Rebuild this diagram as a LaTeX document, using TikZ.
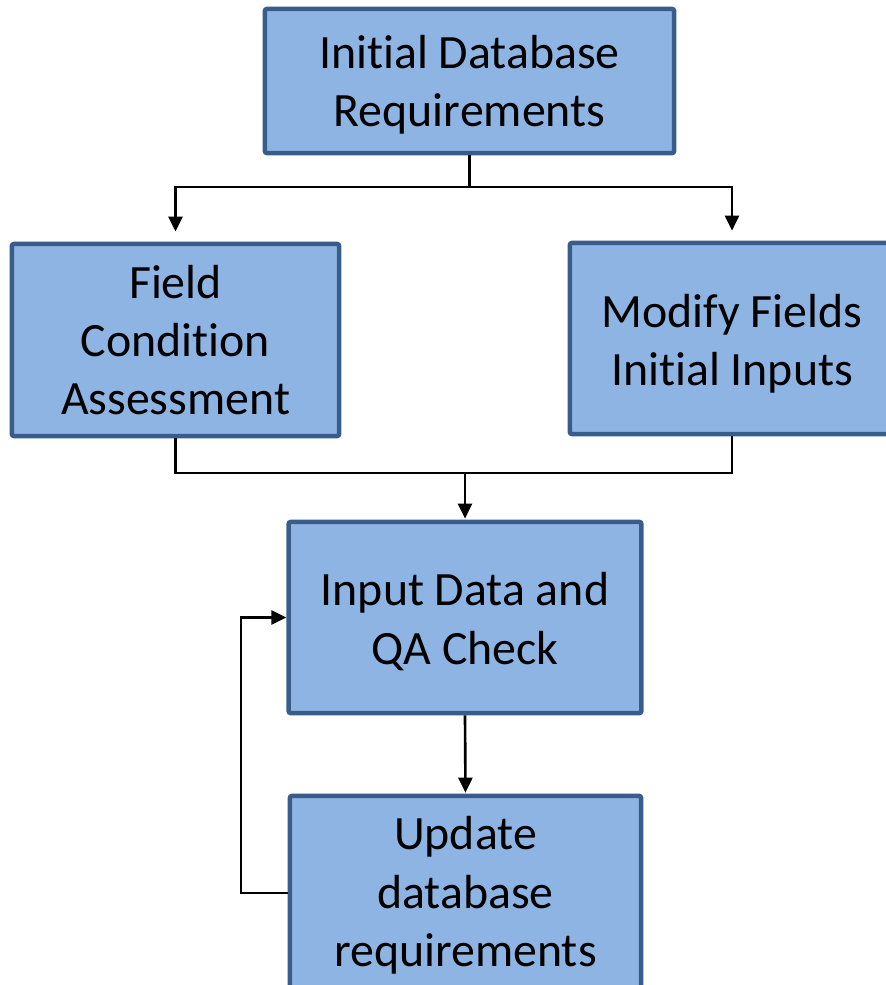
\documentclass[tikz,border=0pt]{standalone}
\usepackage{fontspec}
\setmainfont{Carlito}[Ligatures=NoCommon,Contextuals=NoAlternate]
\usetikzlibrary{arrows.meta}
\definecolor{boxfill}{RGB}{142,180,227}
\definecolor{boxline}{RGB}{56,93,138}
\begin{document}
\begin{tikzpicture}[x=0.01cm,y=-0.01cm,
  flowbox/.style={draw=boxline,fill=boxfill,line width=1.3pt,rounded corners=0.6pt,inner sep=0pt},
  boxtext/.style={inner sep=0pt,align=center,font=\fontsize{13.6}{16.6}\selectfont},
  conn/.style={line width=0.75pt,black},
  arr/.style={conn,-{Triangle[length=0.15cm,width=0.14cm]}}]
\useasboundingbox (0,0) rectangle (886,985);
\clip (0,0) rectangle (886,985);
\node[flowbox,minimum width=4.09cm,minimum height=1.44cm,
  label={[boxtext,yshift=-0.035cm]center:Initial Database\\Requirements}] (top) at (469.5,81) {};
\node[flowbox,minimum width=3.27cm,minimum height=1.92cm,
  label={[boxtext,yshift=0cm]center:Field\\Condition\\Assessment}] (field) at (175.5,340) {};
\node[flowbox,minimum width=3.24cm,minimum height=1.91cm,
  label={[boxtext,yshift=-0.05cm]center:Modify Fields\\Initial Inputs}] (modify) at (732,338.5) {};
\node[flowbox,minimum width=3.525cm,minimum height=1.91cm,
  label={[boxtext,yshift=-0.04cm]center:Input Data and\\QA Check}] (input) at (465,617.5) {};
\node[flowbox,minimum width=3.51cm,minimum height=1.94cm,
  label={[boxtext,yshift=-0.025cm]center:Update\\database\\requirements}] (update) at (465.5,893) {};
\coordinate (j1) at (469.5,187);
\coordinate (j2) at (465,473);
\coordinate (fb) at (241,0);
\draw[conn] (top.south) -- (j1);
\draw[arr,shorten >=0.1cm] (j1) -| (field.north);
\draw[arr,shorten >=0.1cm] (j1) -| (modify.north);
\draw[conn] (field.south) |- (j2) -| (modify.south);
\draw[arr,shorten >=0.01cm] (j2) -- (input.north);
\draw[arr,shorten >=0.01cm] (input.south) -- (update.north);
\draw[arr] (update.west) -- (update.west -| fb) |- (input.west);
\end{tikzpicture}
\end{document}
